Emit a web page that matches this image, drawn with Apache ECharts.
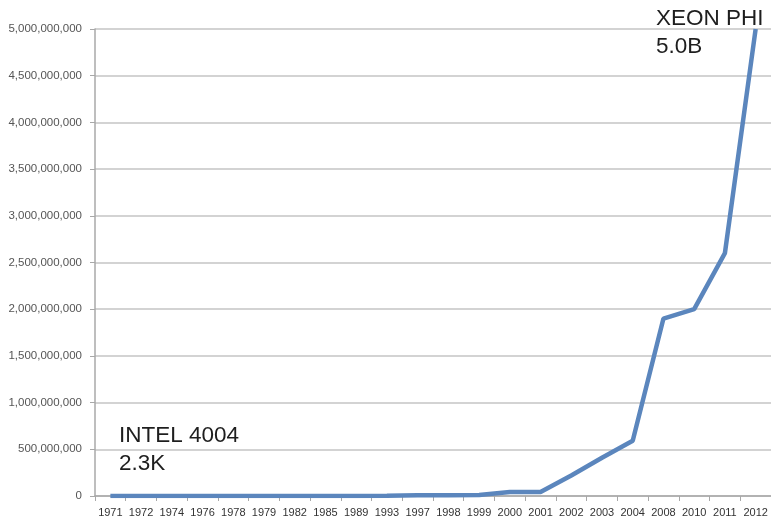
<!DOCTYPE html>
<html>
<head>
<meta charset="utf-8">
<script src="https://cdn.jsdelivr.net/npm/echarts@6/dist/echarts.min.js"></script>
<style>
html,body{margin:0;padding:0;background:#fff;}
#c{width:771px;height:522px;}
</style>
</head>
<body>
<div id="c"></div>
<script>
const years = ['1971','1972','1974','1976','1978','1979','1982','1985','1989','1993','1997','1998','1999','2000','2001','2002','2003','2004','2008','2010','2011','2012'];
const transistors = [2300,3500,4500,6500,29000,29000,134000,275000,1200000,3100000,7500000,7500000,9500000,42000000,42000000,220000000,410000000,592000000,1900000000,2000000000,2600000000,5000000000];
const annoFirst = ['INTEL 4004','2.3K'];
const annoLast = ['XEON PHI','5.0B'];

const chart = echarts.init(document.getElementById('c'), null, {renderer:'canvas'});
chart.setOption({
  animation:false,
  backgroundColor:'#fff',
  grid:{left:95,right:0,top:29,bottom:26,containLabel:false},
  xAxis:{
    type:'category',
    data:years,
    boundaryGap:true,
    axisLine:{lineStyle:{color:'#a8a8a8',width:1.5}},
    axisTick:{show:true,length:5,inside:false,lineStyle:{color:'#a8a8a8'}},
    axisLabel:{color:'#333',fontSize:11,fontFamily:'Liberation Sans, Arial, sans-serif',margin:11,interval:0}
  },
  yAxis:{
    type:'value',
    min:0,max:5000000000,interval:500000000,
    axisLine:{show:true,lineStyle:{color:'#a8a8a8',width:1.5}},
    axisTick:{show:true,length:5,lineStyle:{color:'#a8a8a8'}},
    splitLine:{lineStyle:{color:'#c4c4c4',width:1.5}},
    axisLabel:{color:'#555',fontSize:11.5,fontFamily:'Liberation Sans, Arial, sans-serif',margin:13,
      formatter:v=>v.toLocaleString('en-US')}
  },
  series:[{
    type:'line',
    data:transistors,
    showSymbol:false,
    lineStyle:{color:'#5b86bd',width:4.5},
    itemStyle:{color:'#5b86bd'}
  }],
  graphic:[
    {type:'text',left:119,top:422,style:{text:annoFirst.join('\n'),fontSize:22.5,lineHeight:28,fill:'#1e1e1e',fontFamily:'Liberation Sans, Arial, sans-serif'}},
    {type:'text',left:656,top:5,style:{text:annoLast.join('\n'),fontSize:22.5,lineHeight:28,fill:'#1e1e1e',fontFamily:'Liberation Sans, Arial, sans-serif'}}
  ]
});
</script>
</body>
</html>
